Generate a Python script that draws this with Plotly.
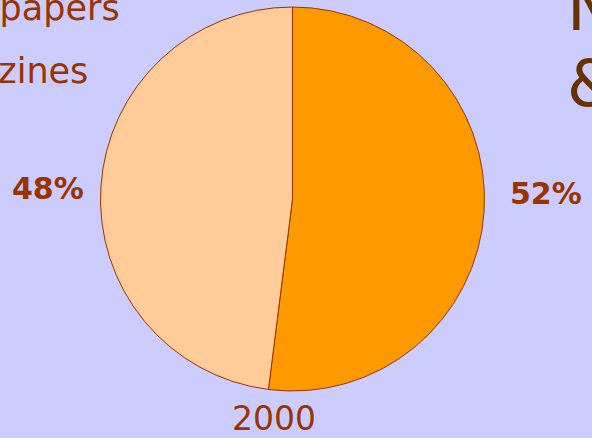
import plotly.graph_objects as go

labels = ["Newspapers", "Magazines"]
values = [52, 48]
colors = ["#FF9900", "#FFCC99"]
year = "2000"

fig = go.Figure()
fig.add_trace(go.Pie(
    labels=labels, values=values,
    sort=False, direction="clockwise", rotation=0,
    marker=dict(colors=colors, line=dict(color="#993300", width=1)),
    textinfo="none", hoverinfo="label+percent",
    domain=dict(x=[92.5 / 592, 492.5 / 592], y=[1 - 391 / 438, 1 - 7 / 438]),
    showlegend=False,
))

lab_font = dict(family="DejaVu Sans", size=30, color="#993300")
# percent labels next to the pie (left slice / right slice)
fig.add_annotation(x=48 / 592, y=1 - 189 / 438, text="<b>%d%%</b>" % values[1],
                   showarrow=False, font=lab_font, xanchor="center", yanchor="middle")
fig.add_annotation(x=546 / 592, y=1 - 193 / 438, text="<b>%d%%</b>" % values[0],
                   showarrow=False, font=lab_font, xanchor="center", yanchor="middle")

fig.add_annotation(x=274 / 592, y=1 - 418 / 438, text=year, showarrow=False,
                   font=dict(family="DejaVu Sans", size=33, color="#993300"),
                   xanchor="center", yanchor="middle")

# legend-ish text, cut off at the left edge like the slide it came from
fig.add_annotation(x=122 / 592, y=1 - 8 / 438, text=labels[0], showarrow=False,
                   font=dict(family="DejaVu Sans", size=35, color="#993300"),
                   xanchor="right", yanchor="middle")
fig.add_annotation(x=90 / 592, y=1 - 71 / 438, text=labels[1], showarrow=False,
                   font=dict(family="DejaVu Sans", size=35, color="#993300"),
                   xanchor="right", yanchor="middle")

# title cut off at the right edge
fig.add_annotation(x=565 / 592, y=1 - 8 / 438, text="N", showarrow=False,
                   font=dict(family="DejaVu Sans", size=64, color="#663300"),
                   xanchor="left", yanchor="middle")
fig.add_annotation(x=565 / 592, y=1 - 84 / 438, text="&amp;", showarrow=False,
                   font=dict(family="DejaVu Sans", size=64, color="#663300"),
                   xanchor="left", yanchor="middle")

fig.update_layout(
    width=592, height=438,
    margin=dict(l=0, r=0, t=0, b=0),
    paper_bgcolor="#CCCCFF",
    plot_bgcolor="#CCCCFF",
)
fig.write_html("out.html", config={"displayModeBar": False},
               post_script="document.body.style.margin='0';")
